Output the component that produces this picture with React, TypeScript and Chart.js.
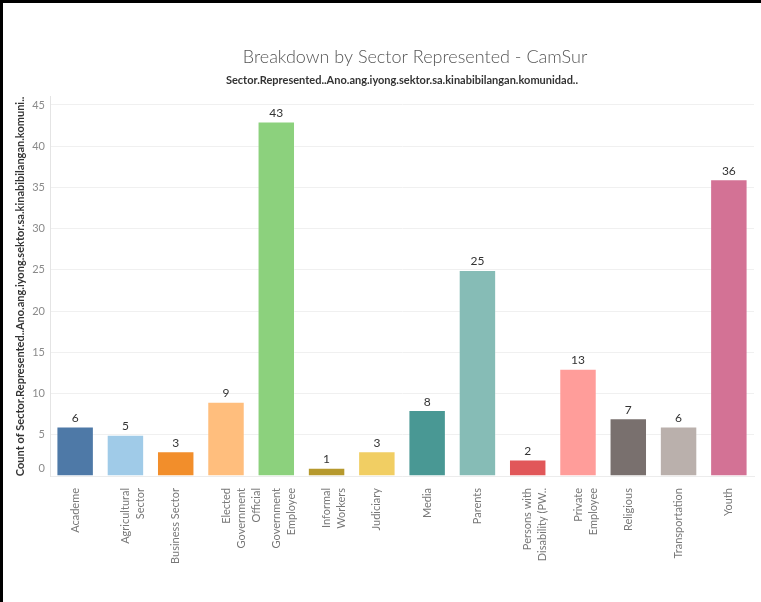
import React, { useEffect, useRef } from "react";
import { Chart, registerables } from "chart.js";

Chart.register(...registerables);

const categories: (string | string[])[] = [
  "Academe",
  ["Agricultural", "Sector"],
  "Business Sector",
  ["Elected", "Government", "Official"],
  ["Government", "Employee"],
  ["Informal", "Workers"],
  "Judiciary",
  "Media",
  "Parents",
  ["Persons with", "Disability (PW.."],
  ["Private", "Employee"],
  "Religious",
  "Transportation",
  "Youth",
];

const counts = [6, 5, 3, 9, 43, 1, 3, 8, 25, 2, 13, 7, 6, 36];

const barColors = [
  "#4e79a7",
  "#a0cbe8",
  "#f28e2b",
  "#ffbe7d",
  "#8cd17d",
  "#b6992d",
  "#f1ce63",
  "#499894",
  "#86bcb6",
  "#e15759",
  "#ff9d9a",
  "#79706e",
  "#bab0ac",
  "#d37295",
];

const yMin = 0;
const yMax = 46;
const yStep = 5;

const titleText = "Breakdown by Sector Represented - CamSur";
const subtitleText =
  "Sector.Represented..Ano.ang.iyong.sektor.sa.kinabibilangan.komunidad..";
const yAxisTitle =
  "Count of Sector.Represented..Ano.ang.iyong.sektor.sa.kinabibilangan.komuni..";

const FONT = "Lato, 'Open Sans', sans-serif";

const valueLabels = {
  id: "valueLabels",
  afterDatasetsDraw(chart: any) {
    const ctx = chart.ctx;
    const meta = chart.getDatasetMeta(0);
    ctx.save();
    ctx.font = `12px ${FONT}`;
    ctx.fillStyle = "#333333";
    ctx.textAlign = "center";
    ctx.textBaseline = "alphabetic";
    meta.data.forEach((bar: any, i: number) => {
      ctx.fillText(String(counts[i]), bar.x, bar.y - 4.5);
    });
    ctx.restore();
  },
};

const mainTitle = {
  id: "mainTitle",
  afterDraw(chart: any) {
    const ctx = chart.ctx;
    ctx.save();
    ctx.font = `300 18px ${FONT}`;
    ctx.fillStyle = "#555555";
    ctx.textAlign = "center";
    ctx.textBaseline = "middle";
    ctx.fillText(titleText, 415, 57);
    ctx.restore();
  },
};

export default function App() {
  const canvasRef = useRef<HTMLCanvasElement | null>(null);

  useEffect(() => {
    if (!canvasRef.current) return;
    const chart = new Chart(canvasRef.current, {
      type: "bar",
      data: {
        labels: categories as any,
        datasets: [
          {
            data: counts,
            backgroundColor: barColors,
            borderColor: "rgba(255,255,255,0.3)",
            borderWidth: 1,
            categoryPercentage: 1,
            barPercentage: 0.745,
          },
        ],
      },
      options: {
        animation: false,
        responsive: false,
        devicePixelRatio: 1,
        layout: { padding: { top: 0, right: 7, bottom: 0, left: 0 } },
        plugins: {
          legend: { display: false },
          tooltip: { enabled: false },
          title: { display: false },
          subtitle: {
            display: true,
            text: subtitleText,
            fullSize: false,
            color: "#333333",
            font: { family: FONT, size: 11, weight: "bold", lineHeight: 1.2 },
            padding: { top: 73.4, bottom: 10.15 },
          },
        },
        scales: {
          x: {
            grid: { display: false },
            border: { display: true, color: "#ececec" },
            ticks: {
              autoSkip: false,
              minRotation: 90,
              maxRotation: 90,
              padding: 4,
              color: "#777777",
              font: { family: FONT, size: 11, lineHeight: 15 / 11 },
            },
            afterFit(scale: any) {
              scale.height = 126;
            },
          },
          y: {
            min: yMin,
            max: yMax,
            grid: { color: "#f0f0f0", drawTicks: false },
            border: { display: true, color: "#e4e4e4" },
            ticks: {
              stepSize: yStep,
              includeBounds: false,
              padding: 5,
              color: "#8a8a8a",
              font: (c: any) => ({
                family: FONT,
                size: 11,
                lineHeight: c.tick && c.tick.value === 0 ? 1.35 : 1.2,
              }),
              callback: (v: any) => (Number(v) === 0 ? ["0", ""] : String(v)),
            },
            title: {
              display: true,
              text: yAxisTitle,
              color: "#333333",
              font: { family: FONT, size: 11, weight: "bold", lineHeight: 1.2 },
              padding: { top: 14, bottom: 0 },
            },
            afterFit(scale: any) {
              scale.width = 50;
            },
          },
        },
      } as any,
      plugins: [valueLabels, mainTitle],
    });
    return () => chart.destroy();
  }, []);

  return (
    <div
      style={{
        position: "fixed",
        left: 0,
        top: 0,
        width: 761,
        height: 602,
        background: "#ffffff",
        overflow: "hidden",
      }}
    >
      <canvas
        ref={canvasRef}
        width={761}
        height={602}
        style={{ position: "absolute", left: 0, top: 0, width: 761, height: 602 }}
      />
      <div
        style={{ position: "absolute", left: 0, top: 0, width: 761, height: 3, background: "#000" }}
      />
      <div
        style={{ position: "absolute", left: 0, top: 0, width: 3, height: 602, background: "#000" }}
      />
    </div>
  );
}
